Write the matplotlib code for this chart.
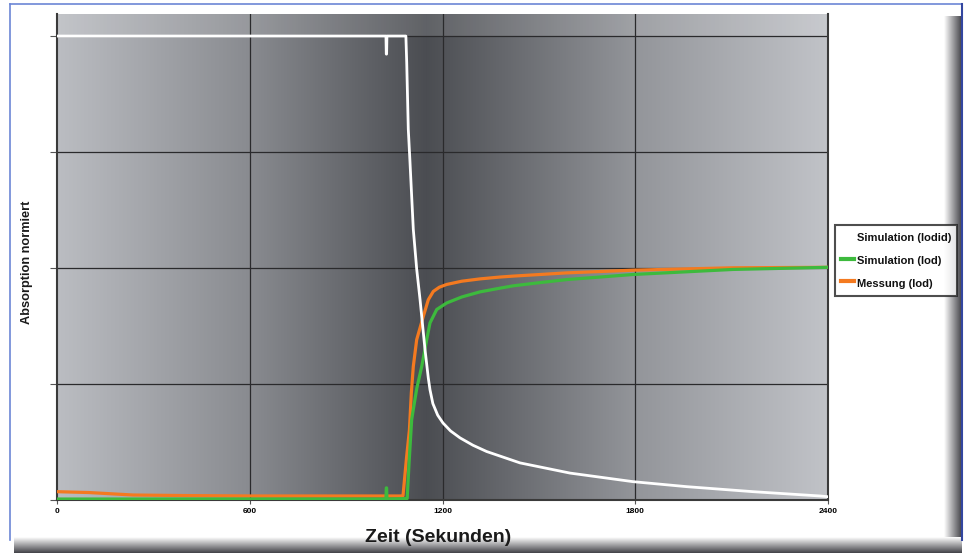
import numpy as np
import matplotlib
matplotlib.use("Agg")
import matplotlib.pyplot as plt
from matplotlib import font_manager as fm
from matplotlib.lines import Line2D

# ---------------- data ----------------
x_ticks = [0, 600, 1200, 1800, 2400]
y_grid = [0.25, 0.5, 0.75, 1.0]

iodid_t = [0, 1024, 1025, 1026, 1027, 1086, 1088.6, 1093.5, 1098.8, 1109.1, 1114.4,
           1119.7, 1130, 1145.5, 1155.8, 1161, 1170, 1185, 1201.6, 1225, 1254.5, 1295, 1337.6,
           1441.2, 1596.9, 1793, 1960.2, 2166.5, 2375, 2400]
iodid_v = [1.0, 1.0, 0.961, 0.961, 1.0, 1.0, 0.943, 0.799, 0.728, 0.583, 0.540,
           0.497, 0.432, 0.324, 0.262, 0.237, 0.207, 0.182, 0.165, 0.148, 0.133, 0.117, 0.1035,
           0.079, 0.057, 0.0385, 0.0277, 0.0169, 0.0076, 0.006]

iod_sim_t = [0, 1024, 1025, 1026, 1027, 1090, 1096, 1104, 1109, 1120, 1135.3, 1150.8, 1161.1,
             1182, 1213, 1260, 1316.7, 1379, 1419.5, 1503.5, 1586.6, 1793, 2104, 2400]
iod_sim_v = [0.001, 0.001, 0.025, 0.025, 0.001, 0.002, 0.08, 0.172, 0.194, 0.24, 0.287, 0.345, 0.381,
             0.410, 0.424, 0.437, 0.448, 0.456, 0.461, 0.468, 0.4745, 0.4855, 0.4964, 0.501]

mess_t = [0, 100, 236.6, 400, 600.8, 1067.7, 1077, 1088, 1097, 1103, 1109.1, 1119.7, 1140.2,
          1155.8, 1171.4, 1190, 1213, 1260, 1316.7, 1379, 1419.5, 1503.5, 1586.6, 1793, 2104, 2400]
mess_v = [0.0169, 0.015, 0.0097, 0.0085, 0.0076, 0.0076, 0.008, 0.09, 0.15, 0.23, 0.287, 0.345,
          0.395, 0.431, 0.449, 0.458, 0.464, 0.471, 0.476, 0.480, 0.482, 0.4855, 0.489,
          0.4948, 0.500, 0.501]

labels = ["Simulation (Iodid)", "Simulation (Iod)", "Messung (Iod)"]
colors = ["#ffffff", "#3dba3d", "#f47a20"]

# ---------------- fonts ----------------
names = {f.name for f in fm.fontManager.ttflist}
narrow = "Liberation Sans Narrow" if "Liberation Sans Narrow" in names else "Liberation Sans"
plt.rcParams["font.family"] = [narrow, "DejaVu Sans"]

W, H = 966, 553
fig = plt.figure(figsize=(W / 100, H / 100), dpi=100)

# ---------------- frame (background) ----------------
bg = fig.add_axes([0, 0, 1, 1], zorder=-5)
bg.set_xlim(0, W)
bg.set_ylim(H, 0)
bg.axis("off")
cols = np.array([1.0, 1.0, 1.0])
dark = np.array([0.26, 0.26, 0.28])
grad_r = np.linspace(1, 0, 64)[None, :]
img_r = (grad_r[..., None] * cols + (1 - grad_r[..., None]) * dark)
bg.imshow(img_r, extent=[944, 962, 540, 16], aspect="auto", zorder=1)
grad_b = np.linspace(1, 0, 64)[:, None]
img_b = (grad_b[..., None] * cols + (1 - grad_b[..., None]) * dark) * np.ones((64, 8, 3))
bg.imshow(img_b, extent=[14, 962, 553, 537], aspect="auto", zorder=1)
bg.plot([10, 10], [4, 540], color="#6c86d6", lw=1.2, zorder=2)
bg.plot([10, 962], [4, 4], color="#6c86d6", lw=1.2, zorder=2)
bg.plot([962, 962], [4, 540], color="#3346a0", lw=1.5, zorder=2)

# ---------------- main axes ----------------
x0, x1 = 57 / W, 828 / W
yb, yt = (H - 499.5) / H, (H - 14) / H
ax = fig.add_axes([x0, yb, x1 - x0, yt - yb])
ymax = 1 + 22 / 462.4
ax.set_xlim(0, 2400)
ax.set_ylim(0, ymax)

stops_t = [0, 600, 1150, 1800, 2400]
stops_g = [190, 140, 78, 150, 196]
tt = np.linspace(0, 2400, 600)
g = np.interp(tt, stops_t, stops_g) / 255.0
img = np.stack([g - 0.012, g - 0.004, g + 0.015], axis=-1)[None, :, :]
img = np.clip(img, 0, 1)
ax.imshow(img, extent=[0, 2400, 0, ymax], aspect="auto", zorder=0)
ax.axhspan(1.0, ymax, color="white", alpha=0.12, zorder=0.5, lw=0)

for xv in x_ticks[1:-1]:
    ax.axvline(xv, color="#2a2a2c", lw=0.9, zorder=1)
for yv in y_grid:
    ax.axhline(yv, color="#2a2a2c", lw=0.9, zorder=1)

ax.plot(mess_t, mess_v, color=colors[2], lw=2.3, zorder=3, solid_joinstyle="round")
ax.plot(iod_sim_t, iod_sim_v, color=colors[1], lw=2.3, zorder=4, solid_joinstyle="round")
ax.plot(iodid_t, iodid_v, color=colors[0], lw=2.0, zorder=5, solid_joinstyle="round")

ax.spines["top"].set_visible(False)
for s in ["left", "right", "bottom"]:
    ax.spines[s].set_color("#3a3a3a")
    ax.spines[s].set_linewidth(1.5)

ax.set_xticks(x_ticks)
ax.set_xticklabels([str(v) for v in x_ticks], fontsize=6, fontweight="bold")
ax.set_yticks([0] + y_grid)
ax.set_yticklabels([])
ax.tick_params(axis="x", length=3, width=0.8, color="#555555", pad=3)
ax.tick_params(axis="y", length=5, width=0.8, color="#555555")

fig.text(438 / W, 1 - 537 / H, "Zeit (Sekunden)", fontsize=14, fontweight="bold",
         ha="center", va="center", color="#1a1a1a")
fig.text(27 / W, 1 - 262 / H, "Absorption normiert", fontsize=9.2, fontweight="bold",
         rotation=90, ha="center", va="center", color="#1a1a1a")

handles = [Line2D([], [], color=c, lw=3) for c in colors]
leg = fig.legend(handles, labels, loc="upper left", bbox_to_anchor=(835 / W, 1 - 225 / H),
                 fontsize=8, frameon=True, fancybox=False, handlelength=1.25, handleheight=1.6,
                 handletextpad=0.2, borderpad=0.5, labelspacing=0.75, borderaxespad=0)
leg.get_frame().set_edgecolor("#222222")
leg.get_frame().set_linewidth(1.5)
for t in leg.get_texts():
    t.set_fontweight("bold")
    t.set_color("#111111")

fig.savefig("out.png", dpi=100)
